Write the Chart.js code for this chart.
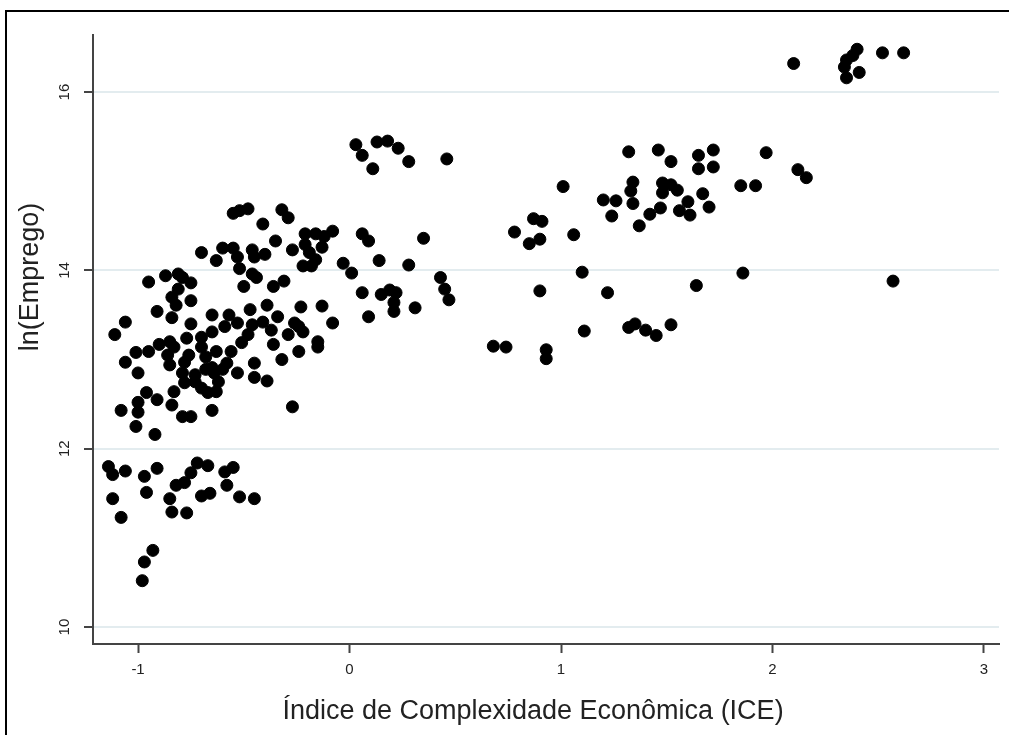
<!DOCTYPE html>
<html>
<head>
<meta charset="utf-8">
<script src="https://cdn.jsdelivr.net/npm/chart.js@4"></script>
<style>
  html, body { margin: 0; padding: 0; background: #fff; }
  canvas { display: block; }
</style>
</head>
<body>
<canvas id="myChart" width="1009" height="735"></canvas>
<script>
// ICE (x) and ln(Emprego) (y)
const iceValues = [
    -0.55, -0.52, -0.48, -0.32, -0.29, -0.41, -0.35, -0.70, -0.63, -0.60,
    -0.55, -0.53, -0.46, -0.45, -0.40, -0.27, -0.21, -0.16, -0.12, -0.08,
    -0.21, -0.19, -0.13, -0.22, -0.18, -0.16, 0.06, 0.09, -0.03, 0.01,
    0.14, -0.52, -0.46, -0.44, -0.50, -0.36, -0.31, -0.95, -0.87, -0.81,
    -0.79, -0.75, -0.81, -0.84, -0.82, -0.75, -0.91, -0.84, -0.75, -1.06,
    0.06, 0.15, 0.09, -0.23, -0.13, -0.08, -0.65, -0.57, -0.47, -0.39,
    -0.34, -0.26,
    0.03, 0.06, 0.13, 0.18, 0.23, 0.11, 0.28, 0.46, 0.35, 0.28,
    0.19, 0.22, 0.21, 0.21, 0.31, 0.43, 0.45, 0.47,
    -1.11, -1.01, -1.06, -1.00, -0.95, -0.90, -0.85, -0.83, -0.86, -0.85,
    -0.77, -0.76, -0.78, -0.70, -0.65, -0.59, -0.53, -0.46, -0.41, -0.37,
    -0.29, -0.24, -0.22, -0.15, -0.15, -0.36, -0.32, -0.24, -0.70, -0.68,
    -0.63, -0.56, -0.51, -0.48, -0.58, -0.60, -0.65, -0.68, -0.73, -0.79,
    -0.78, -0.73, -0.70, -0.67, -0.63, -0.62, -0.64, -0.53, -0.45, -0.45,
    -0.39, -0.83, -0.84, -0.79, -0.75, -0.65, -0.96, -0.91, -1.00, -1.08,
    -1.00, -1.01, -0.92, -0.27,
    -1.14, -1.12, -1.06, -0.97, -0.91, -0.96, -1.12, -1.08, -0.85, -0.84,
    -0.77, -0.82, -0.78, -0.75, -0.72, -0.67, -0.70, -0.66, -0.59, -0.55,
    -0.58, -0.52, -0.45, -0.93, -0.97, -0.98,
    1.01, 0.78, 0.87, 0.91, 0.85, 0.90, 1.06, 1.10, 0.90, 1.22,
    0.68, 0.74, 0.93, 0.93, 1.11, 1.32, 1.35, 1.40, 1.45, 1.52,
    1.64, 1.86, 2.57,
    1.32, 1.46, 1.52, 1.65, 1.65, 1.72, 1.72, 1.20, 1.26, 1.24,
    1.34, 1.33, 1.34, 1.37, 1.42, 1.47, 1.48, 1.48, 1.52, 1.55,
    1.60, 1.56, 1.61, 1.67, 1.70, 1.97, 1.85, 1.92, 2.12, 2.16,
    2.10, 2.35, 2.38, 2.40, 2.34, 2.35, 2.41, 2.52, 2.62
];
const lnEmprego = [
    14.64, 14.67, 14.69, 14.68, 14.59, 14.52, 14.33, 14.20, 14.11, 14.25,
    14.25, 14.15, 14.23, 14.15, 14.18, 14.23, 14.41, 14.41, 14.38, 14.44,
    14.29, 14.20, 14.26, 14.05, 14.05, 14.12, 14.41, 14.33, 14.08, 13.97,
    14.11, 14.02, 13.96, 13.92, 13.82, 13.82, 13.88, 13.87, 13.94, 13.96,
    13.92, 13.86, 13.79, 13.70, 13.61, 13.66, 13.54, 13.47, 13.40, 13.42,
    13.75, 13.73, 13.48, 13.59, 13.60, 13.41, 13.50, 13.50, 13.56, 13.61,
    13.48, 13.41,
    15.41, 15.29, 15.44, 15.45, 15.37, 15.14, 15.22, 15.25, 14.36, 14.06,
    13.78, 13.75, 13.64, 13.54, 13.58, 13.92, 13.79, 13.67,
    13.28, 13.08, 12.97, 12.85, 13.09, 13.17, 13.20, 13.14, 13.05, 12.94,
    13.24, 13.05, 12.97, 13.25, 13.31, 13.37, 13.41, 13.39, 13.42, 13.33,
    13.28, 13.37, 13.31, 13.20, 13.14, 13.17, 13.00, 13.09, 13.14, 13.03,
    13.09, 13.09, 13.19, 13.28, 12.96, 12.89, 12.91, 12.89, 12.83, 12.85,
    12.74, 12.75, 12.68, 12.63, 12.64, 12.75, 12.85, 12.85, 12.96, 12.80,
    12.76, 12.64, 12.49, 12.36, 12.36, 12.43, 12.63, 12.55, 12.52, 12.43,
    12.41, 12.25, 12.16, 12.47,
    11.80, 11.71, 11.75, 11.69, 11.78, 11.51, 11.44, 11.23, 11.44, 11.29,
    11.28, 11.59, 11.62, 11.73, 11.84, 11.81, 11.47, 11.50, 11.74, 11.79,
    11.59, 11.46, 11.44, 10.86, 10.73, 10.52,
    14.94, 14.43, 14.58, 14.55, 14.30, 14.35, 14.40, 13.98, 13.77, 13.75,
    13.15, 13.14, 13.11, 13.01, 13.32, 13.36, 13.40, 13.33, 13.27, 13.39,
    13.83, 13.97, 13.88,
    15.33, 15.35, 15.22, 15.29, 15.14, 15.35, 15.16, 14.79, 14.78, 14.61,
    14.99, 14.89, 14.75, 14.50, 14.63, 14.70, 14.98, 14.87, 14.96, 14.90,
    14.77, 14.67, 14.62, 14.86, 14.71, 15.32, 14.95, 14.95, 15.13, 15.04,
    16.32, 16.36, 16.41, 16.48, 16.28, 16.16, 16.22, 16.44, 16.44
];
const xTitle = 'Índice de Complexidade Econômica (ICE)';
const yTitle = 'ln(Emprego)';

const points = iceValues.map((x, i) => ({x: x, y: lnEmprego[i]}));

// frame, rotated y tick labels and axis titles
const extras = {
    id: 'extras',
    beforeDraw(chart) {
        const ctx = chart.ctx;
        ctx.save();
        ctx.fillStyle = '#fff';
        ctx.fillRect(0, 0, chart.width, chart.height);
        ctx.strokeStyle = '#000';
        ctx.lineWidth = 2;
        ctx.strokeRect(6, 11, 1020, 760);
        ctx.restore();
    },
    afterDraw(chart) {
        const ctx = chart.ctx;
        const yScale = chart.scales.y;
        ctx.save();
        ctx.fillStyle = '#222';
        ctx.textAlign = 'center';
        ctx.textBaseline = 'middle';
        ctx.font = '15px "Liberation Sans", Arial, sans-serif';
        yScale.ticks.forEach(t => {
            ctx.save();
            ctx.translate(65, yScale.getPixelForValue(t.value));
            ctx.rotate(-Math.PI / 2);
            ctx.fillText(String(t.value), 0, 0);
            ctx.restore();
        });
        ctx.font = '27px "Liberation Sans", Arial, sans-serif';
        ctx.fillText(xTitle, 533, 712);
        ctx.translate(31, 277);
        ctx.rotate(-Math.PI / 2);
        ctx.fillText(yTitle, 0, 0);
        ctx.restore();
    }
};

const ctx = document.getElementById('myChart');
new Chart(ctx, {
    type: 'scatter',
    data: {
        datasets: [{
            label: 'ICE x ln(Emprego)',
            data: points,
            backgroundColor: '#000',
            borderColor: '#000',
            borderWidth: 1,
            pointRadius: 6,
            pointHoverRadius: 6
        }]
    },
    options: {
        responsive: false,
        animation: false,
        layout: {padding: {top: 35, right: 10, left: 0, bottom: 0}},
        plugins: {
            legend: {display: false},
            tooltip: {enabled: false}
        },
        scales: {
            x: {
                type: 'linear',
                min: -1.213,
                max: 3.071,
                afterFit(scale) { scale.height = 91; },
                border: {color: '#444', width: 2},
                grid: {display: true, drawOnChartArea: false, drawTicks: true, tickLength: 9, tickColor: '#444', tickWidth: 2},
                ticks: {
                    stepSize: 1,
                    includeBounds: false,
                    color: '#222',
                    padding: 8,
                    maxRotation: 0,
                    font: {family: '"Liberation Sans", Arial, sans-serif', size: 15}
                }
            },
            y: {
                min: 9.81,
                max: 16.64,
                afterFit(scale) { scale.width = 93; },
                border: {color: '#444', width: 2},
                grid: {color: '#e3ecef', lineWidth: 2, drawTicks: true, tickLength: 9, tickColor: '#444', tickWidth: 2},
                ticks: {
                    stepSize: 2,
                    includeBounds: false,
                    display: false
                }
            }
        }
    },
    plugins: [extras]
});
</script>
</body>
</html>
